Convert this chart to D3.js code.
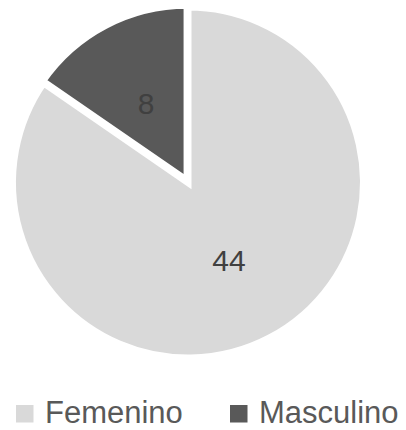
<!DOCTYPE html>
<html>
<head>
<meta charset="utf-8">
<script src="https://cdn.jsdelivr.net/npm/d3@7"></script>
<style>
  html, body { margin: 0; padding: 0; background: #ffffff; }
  svg { display: block; }
</style>
</head>
<body>
<svg id="chart" width="406" height="430"></svg>
<script>
const categories = ["Femenino", "Masculino"];
const values = [44, 8];
const colors = ["#d9d9d9", "#595959"];
const explode = [0, 2];

const svg = d3.select("#chart");
const cx = 188, cy = 182.5;
const R = 175.5;
const strokeW = 7;

const data = categories.map((c, i) => ({ name: c, value: values[i], color: colors[i], ex: explode[i] }));

const pie = d3.pie().sort(null).value(d => d.value).startAngle(0).endAngle(2 * Math.PI);
const arcs = pie(data);
const arc = d3.arc().innerRadius(0).outerRadius(R);
const labelArc = d3.arc().innerRadius(88).outerRadius(88);

const g = svg.append("g").attr("transform", `translate(${cx},${cy})`);

const slices = g.selectAll("g.slice").data(arcs).enter().append("g")
  .attr("class", "slice")
  .attr("transform", d => {
    const mid = (d.startAngle + d.endAngle) / 2;
    const dx = Math.sin(mid) * d.data.ex;
    const dy = -Math.cos(mid) * d.data.ex;
    return `translate(${dx},${dy})`;
  });

slices.append("path")
  .attr("d", arc)
  .attr("fill", d => d.data.color)
  .attr("stroke", "#ffffff")
  .attr("stroke-width", strokeW)
  .attr("stroke-linejoin", "miter");

slices.append("text")
  .attr("transform", d => `translate(${labelArc.centroid(d)})`)
  .attr("text-anchor", "middle")
  .attr("dy", "0.36em")
  .attr("font-family", "Liberation Sans, Arial, sans-serif")
  .attr("font-size", 30)
  .attr("fill", "#404040")
  .text(d => d.data.value);

// Legend
const legend = svg.append("g").attr("font-family", "Liberation Sans, Arial, sans-serif");
const legendX = [16, 230];
const items = legend.selectAll("g").data(data).enter().append("g")
  .attr("transform", (d, i) => `translate(${legendX[i]},0)`);
items.append("rect")
  .attr("x", 0).attr("y", 405)
  .attr("width", 17.5).attr("height", 17.5)
  .attr("fill", d => d.color);
items.append("text")
  .attr("x", 29).attr("y", 423)
  .attr("font-size", 31)
  .attr("fill", "#595959")
  .text(d => d.name);
</script>
</body>
</html>
